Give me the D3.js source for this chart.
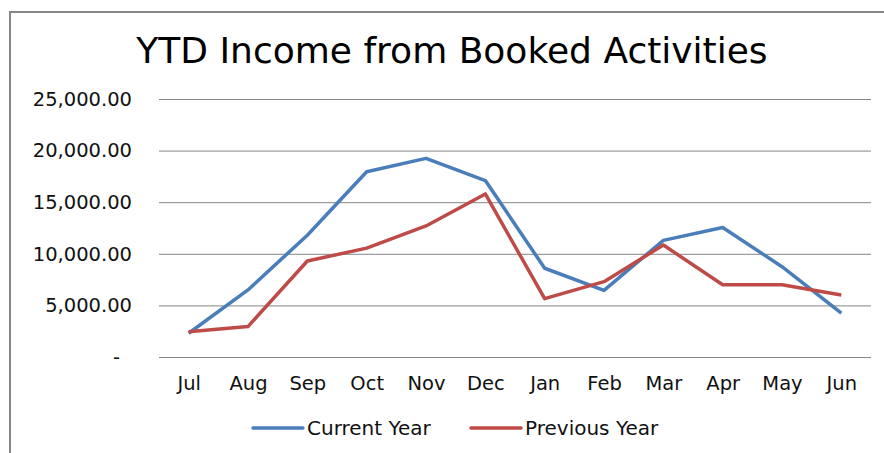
<!DOCTYPE html>
<html>
<head>
<meta charset="utf-8">
<script src="https://cdn.jsdelivr.net/npm/d3@7"></script>
<style>
  body { margin: 0; background: #fff; }
  text { font-family: "DejaVu Sans", sans-serif; fill: #111; }
</style>
</head>
<body>
<div id="chart"></div>
<script>
// months of the financial year
var months = ["Jul", "Aug", "Sep", "Oct", "Nov", "Dec", "Jan", "Feb", "Mar", "Apr", "May", "Jun"];
var currentYear = [2300, 6500, 11800, 17950, 19250, 17100, 8600, 6450, 11300, 12550, 8750, 4250];
var previousYear = [2450, 2950, 9300, 10550, 12700, 15800, 5650, 7300, 10850, 7000, 7000, 6000];
var yTicks = [0, 5000, 10000, 15000, 20000, 25000];
var seriesNames = ["Current Year", "Previous Year"];
var seriesColors = ["#4a7ebb", "#be4b48"];

var width = 884, height = 453;
var plot = { left: 159, right: 871, top: 99, bottom: 357 };

var svg = d3.select("#chart")
            .append("svg")
            .attr("width", width)
            .attr("height", height);

// chart area border (runs off the right and bottom of the picture)
svg.append("rect")
   .attr("x", 10)
   .attr("y", 12)
   .attr("width", 900)
   .attr("height", 480)
   .style("fill", "none")
   .style("stroke", "#868686")
   .style("stroke-width", 2);

svg.append("text")
   .attr("x", 452)
   .attr("y", 63)
   .attr("text-anchor", "middle")
   .style("font-size", "36px")
   .style("fill", "#000")
   .text("YTD Income from Booked Activities");

var x = d3.scalePoint()
          .domain(months)
          .range([plot.left, plot.right])
          .padding(0.5);

var y = d3.scaleLinear()
          .domain([0, 25000])
          .range([plot.bottom, plot.top]);

var fmt = function(v) {
    return v === 0 ? "-" : d3.format(",.2f")(v);
};

// horizontal gridlines + value labels
var yAxis = svg.append("g")
               .attr("transform", "translate(" + plot.left + ",0)")
               .call(d3.axisLeft(y)
                       .tickValues(yTicks)
                       .tickFormat(fmt)
                       .tickSize(-(plot.right - plot.left))
                       .tickPadding(27));
yAxis.select(".domain").remove();
yAxis.selectAll(".tick line")
     .style("stroke", "#868686")
     .style("stroke-width", 1);
yAxis.selectAll(".tick text")
     .style("font-size", "19.5px")
     .attr("dx", function(d) { return d === 0 ? -12 : 0; });

var xAxis = svg.append("g")
               .attr("transform", "translate(0," + plot.bottom + ")")
               .call(d3.axisBottom(x).tickSize(0).tickPadding(19));
xAxis.select(".domain").remove();
xAxis.selectAll(".tick text")
     .style("font-size", "19.5px");

var line = d3.line()
             .x(function(d, i) { return x(months[i]); })
             .y(function(d) { return y(d); });

[currentYear, previousYear].forEach(function(values, i) {
    svg.append("path")
       .datum(values)
       .attr("d", line)
       .style("fill", "none")
       .style("stroke", seriesColors[i])
       .style("stroke-width", 3.5)
       .style("stroke-linejoin", "round");
});

// legend
var legendX = [253, 471];
var legend = svg.selectAll(".legend")
                .data(seriesNames)
                .enter()
                .append("g")
                .attr("class", "legend")
                .attr("transform", function(d, i) { return "translate(" + legendX[i] + ",428)"; });
legend.append("line")
      .attr("x1", 0)
      .attr("x2", 50)
      .style("stroke", function(d, i) { return seriesColors[i]; })
      .style("stroke-width", 3.5)
      .style("stroke-linecap", "round");
legend.append("text")
      .attr("x", 54)
      .attr("dy", "0.35em")
      .style("font-size", "20px")
      .text(function(d) { return d; });
</script>
</body>
</html>
